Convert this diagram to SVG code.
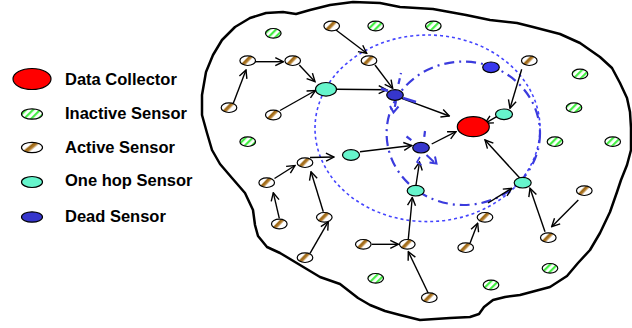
<svg xmlns="http://www.w3.org/2000/svg" width="632" height="328" viewBox="0 0 632 328">
<defs>
<style>
text{font-family:"Liberation Sans",Arial,sans-serif;font-weight:bold;font-size:16.5px;fill:#000}
.act{fill:url(#gAct);stroke:#000;stroke-width:1.2}
.ina{fill:url(#pIna);stroke:#000;stroke-width:1.2}
.hop{fill:#66f5cc;stroke:#000;stroke-width:1.2}
.dead{fill:#3636cc;stroke:#000;stroke-width:1.2}
.dc{fill:#ff0000;stroke:#000;stroke-width:1.2}
.ar{stroke:#000;stroke-width:1.4;fill:none;marker-end:url(#ah)}
.bd{stroke:#3b3bdd;stroke-width:2.2;fill:none;stroke-dasharray:6,4}
</style>
<linearGradient id="gAct" x1="0" y1="0" x2="1" y2="0.6">
<stop offset="0" stop-color="#fff"/>
<stop offset="0.38" stop-color="#fff"/>
<stop offset="0.48" stop-color="#9a6410"/>
<stop offset="0.6" stop-color="#b37e30"/>
<stop offset="0.72" stop-color="#fff"/>
<stop offset="1" stop-color="#fff"/>
</linearGradient>
<pattern id="pIna" width="5" height="5" patternUnits="userSpaceOnUse" patternTransform="rotate(45)">
<rect width="5" height="5" fill="#ffffff"/>
<rect width="2.2" height="5" fill="#44ee44"/>
</pattern>
<marker id="ah" markerWidth="10" markerHeight="10" refX="9" refY="5" orient="auto" markerUnits="userSpaceOnUse">
<path d="M1,1 L9,5 L1,9" fill="none" stroke="#000" stroke-width="1.4"/>
</marker>
</defs>
<rect width="632" height="328" fill="#fff"/>

<g id="boundary">
<path d="M283,12 L296,14 L310,10 L330,5 L353,2 L380,3 L400,7 L433,9 L466,15 L490,20 L517,23 L533,27 L560,34 L580,43 L600,57 L612,68 L620,83 L627,98 L630,112 L631,128 L631,150 L627,165 L621,180 L617,192 L610,212 L600,233 L590,250 L578,263 L567,276 L550,287 L535,291 L520,295 L505,297 L493,300 L484,307 L479,314 L470,317 L450,318 L420,320 L400,315 L385,311 L370,305 L358,298 L340,284 L320,277 L300,265 L280,253 L267,247 L258,236 L255,225 L253,210 L245,193 L232,178 L220,164 L212,150 L207,133 L202,115 L202,95 L206,72 L213,55 L222,40 L235,27 L250,18 L266,13 Z" fill="none" stroke="#000" stroke-width="2.5" stroke-linejoin="round"/>
</g>

<g id="ranges">
<ellipse cx="427.5" cy="128.3" rx="112.5" ry="93.3" fill="none" stroke="#4444ff" stroke-width="1.6" stroke-dasharray="3,3"/>
<ellipse cx="463.3" cy="133.3" rx="76.7" ry="71.7" fill="none" stroke="#3b3bdd" stroke-width="2.2" stroke-dasharray="10,5,2,5"/>
</g>

<g id="legend">
<ellipse class="dc" cx="32" cy="79" rx="19" ry="10.5"/>
<text x="65" y="84.5">Data Collector</text>
<ellipse class="ina" cx="32" cy="114" rx="10.5" ry="5.2"/>
<text x="65" y="119">Inactive Sensor</text>
<ellipse class="act" cx="32" cy="147.5" rx="10.5" ry="5.2"/>
<text x="65" y="152.5">Active Sensor</text>
<ellipse class="hop" cx="32" cy="182" rx="10.5" ry="5.5"/>
<text x="65" y="185.5">One hop Sensor</text>
<ellipse class="dead" cx="32" cy="217" rx="10.5" ry="5.2"/>
<text x="65" y="221.5">Dead Sensor</text>
</g>

<g id="connectors">
<path class="ar" d="M335,29.3 L366.7,53.3"/>
<path class="ar" d="M375,65 L392.7,88.3"/>
<path class="ar" d="M255,61.7 L283.3,61.7"/>
<path class="ar" d="M233.3,103.3 L246,70"/>
<path class="ar" d="M299.3,65 L315,81.7"/>
<path class="ar" d="M280,110.5 L315.5,90.5"/>
<path class="ar" d="M336.7,89.3 L386.7,89.8"/>
<path class="ar" d="M401.7,98.3 L449.3,116"/>
<path class="ar" d="M360,151.7 L411.7,145.5"/>
<path class="ar" d="M431.7,144 L456,131.7"/>
<path class="ar" d="M521.7,69.3 L510,108.3"/>
<path class="ar" d="M496.7,116.7 L485,123.3"/>
<path class="ar" d="M520,178.3 L485,140"/>
<path class="ar" d="M578.3,200 L551.7,226.7"/>
<path class="ar" d="M545,231.7 L530,188.3"/>
<path class="ar" d="M488,203 L511.7,188.3"/>
<path class="ar" d="M470,243.3 L477.7,223.3"/>
<path class="ar" d="M408.3,239 L412.3,197.5"/>
<path class="ar" d="M416,185 L419.5,162"/>
<path class="ar" d="M371.7,244.3 L398.3,244.3"/>
<path class="ar" d="M428.3,293.3 L408.3,251.7"/>
<path class="ar" d="M310,253.3 L328.3,221.7"/>
<path class="ar" d="M323.3,211.7 L311,171.7"/>
<path class="ar" d="M279.3,218.3 L273.3,192.7"/>
<path class="ar" d="M274.5,178.5 L295,165.5"/>
<path class="ar" d="M310,157.5 L334,157"/>
<path d="M381,88.5 L388,91" stroke="#3b3bdd" stroke-width="2.4" fill="none"/>
<path d="M403,98 L416,102" stroke="#3b3bdd" stroke-width="2.4" fill="none"/>
<path class="bd" d="M398.5,84 L401,73"/>
<path class="bd" d="M396,101 L394,111"/>
<path d="M390,106 L393.5,112.5 L398.5,106.5" stroke="#3b3bdd" stroke-width="2" fill="none"/>
<path class="bd" d="M406.5,136.5 L414,142"/>
<path class="bd" d="M425,131 L424,139"/>
<path d="M426.5,155 L434,162" stroke="#3b3bdd" stroke-width="2" fill="none"/>
<path d="M429.5,162.5 L436.5,163.5 L435,156.5" stroke="#3b3bdd" stroke-width="2" fill="none"/>
<path d="M420,157 L417,162 L421.5,165" stroke="#3b3bdd" stroke-width="1.6" fill="none"/>
</g>

<g id="inactive">
<ellipse class="ina" cx="273.3" cy="33.3" rx="7.8" ry="4.8"/>
<ellipse class="ina" cx="375.7" cy="26" rx="7.8" ry="4.8"/>
<ellipse class="ina" cx="433.3" cy="26" rx="7.8" ry="4.8"/>
<ellipse class="ina" cx="247.7" cy="141.7" rx="7.8" ry="4.8"/>
<ellipse class="ina" cx="580" cy="74" rx="7.8" ry="4.8"/>
<ellipse class="ina" cx="574" cy="107.7" rx="7.8" ry="4.8"/>
<ellipse class="ina" cx="555" cy="141.7" rx="7.8" ry="4.8"/>
<ellipse class="ina" cx="612.7" cy="141.7" rx="7.8" ry="4.8"/>
<ellipse class="ina" cx="375.7" cy="278.3" rx="7.8" ry="4.8"/>
<ellipse class="ina" cx="491" cy="285" rx="7.8" ry="4.8"/>
<ellipse class="ina" cx="550" cy="268.3" rx="7.8" ry="4.8"/>
</g>

<g id="active">
<ellipse class="act" cx="331.7" cy="26" rx="7.8" ry="4.8"/>
<ellipse class="act" cx="247.7" cy="60.7" rx="7.8" ry="4.8"/>
<ellipse class="act" cx="292.7" cy="60.7" rx="7.8" ry="4.8"/>
<ellipse class="act" cx="369" cy="60.7" rx="7.8" ry="4.8"/>
<ellipse class="act" cx="229" cy="107.7" rx="7.8" ry="4.8"/>
<ellipse class="act" cx="273.3" cy="115" rx="7.8" ry="4.8"/>
<ellipse class="act" cx="529.3" cy="60.7" rx="7.8" ry="4.8"/>
<ellipse class="act" cx="305" cy="162.7" rx="7.8" ry="4.8"/>
<ellipse class="act" cx="266.7" cy="182.7" rx="7.8" ry="4.8"/>
<ellipse class="act" cx="279.3" cy="224" rx="7.8" ry="4.8"/>
<ellipse class="act" cx="324.3" cy="217.3" rx="7.8" ry="4.8"/>
<ellipse class="act" cx="305" cy="257.7" rx="7.8" ry="4.8"/>
<ellipse class="act" cx="363.3" cy="244.3" rx="7.8" ry="4.8"/>
<ellipse class="act" cx="407.3" cy="244.3" rx="7.8" ry="4.8"/>
<ellipse class="act" cx="429.3" cy="297.7" rx="7.8" ry="4.8"/>
<ellipse class="act" cx="485" cy="217.3" rx="7.8" ry="4.8"/>
<ellipse class="act" cx="465.7" cy="247.7" rx="7.8" ry="4.8"/>
<ellipse class="act" cx="584.3" cy="190.7" rx="7.8" ry="4.8"/>
<ellipse class="act" cx="548.3" cy="237.7" rx="7.8" ry="4.8"/>
</g>

<g id="onehop">
<ellipse class="hop" cx="326" cy="89.3" rx="10.5" ry="6.8"/>
<ellipse class="hop" cx="351" cy="155" rx="8.5" ry="5.3"/>
<ellipse class="hop" cx="504" cy="114.3" rx="8.5" ry="5.3"/>
<ellipse class="hop" cx="415.7" cy="190.7" rx="8.5" ry="5.3"/>
<ellipse class="hop" cx="522.7" cy="182.7" rx="8.5" ry="5.3"/>
</g>

<g id="dead">
<ellipse class="dead" cx="395" cy="95" rx="8.3" ry="5.3"/>
<ellipse class="dead" cx="421" cy="147.7" rx="8.3" ry="5.3"/>
<ellipse class="dead" cx="491" cy="67.3" rx="8.3" ry="5.3" style="fill:#3838ee"/>
</g>

<g id="collector">
<ellipse class="dc" cx="473.3" cy="126.7" rx="16" ry="10"/>
</g>
</svg>
